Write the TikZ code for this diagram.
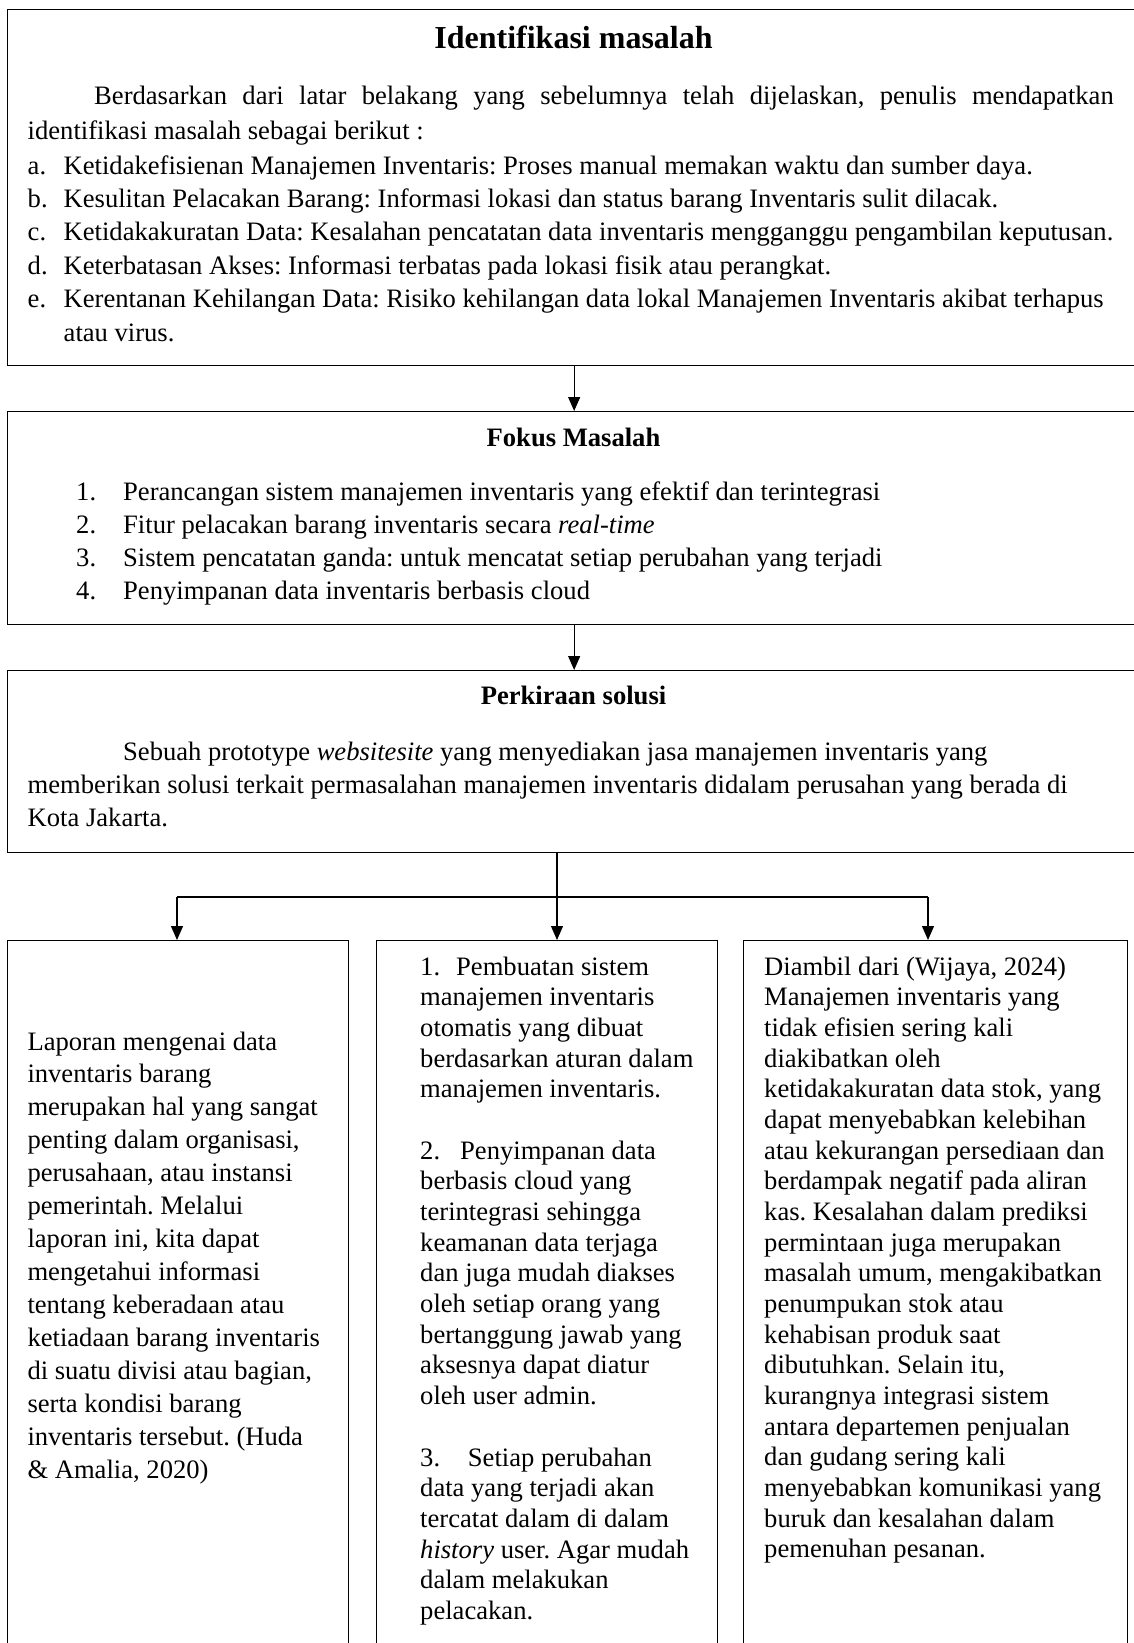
\documentclass[tikz,border=0pt]{standalone}
\usepackage{fontspec}
\setmainfont{Liberation Serif}
\usetikzlibrary{arrows.meta}
\newcommand\myfont[1]{\fontsize{26.6}{#1}\selectfont}
\frenchspacing
\begin{document}
\frenchspacing
\begin{tikzpicture}[x=1pt,y=-1pt,
  box/.style={draw,line width=1.3pt,rectangle,inner sep=0pt,anchor=north west},
  txt/.style={inner sep=0pt,anchor=base west},
  ttl/.style={inner sep=0pt,anchor=base,font=\fontsize{26.6}{30}\selectfont\bfseries},
  arr/.style={line width=1.2pt,-{Triangle[length=14pt,width=12pt]}},
  ln/.style={line width=1.2pt}]
\useasboundingbox (0,0) rectangle (1134,1643);
\clip (0,0) rectangle (1134,1643);
% boxes
\node[box,minimum width=1133pt,minimum height=356pt] (idbox) at (7,9) {};
\node[box,minimum width=1133pt,minimum height=212.6pt] (fokbox) at (7,411) {};
\node[box,minimum width=1133pt,minimum height=182pt] (perbox) at (7,670) {};
\node[box,minimum width=341pt,minimum height=720pt] (b1) at (7,940) {};
\node[box,minimum width=341pt,minimum height=720pt] (b2) at (375.5,940) {};
\node[box,minimum width=384pt,minimum height=720pt] (b3) at (743,940) {};
% titles
\node[ttl,font=\fontsize{32}{36}\selectfont\bfseries] (idttl) at (573.5,49) {Identifikasi masalah};
\node[ttl] (fokttl) at (573.5,446.5) {Fokus Masalah};
\node[ttl] (perttl) at (573.5,704) {Perkiraan solusi};
% top box text
\node[txt] (idpar) at (27.5,105) {\parbox[t]{1200pt}{\myfont{35}\raggedright\frenchspacing
\leavevmode\hbox to 1086pt{\hspace{66.5pt}Berdasarkan dari latar belakang yang sebelumnya telah dijelaskan, penulis mendapatkan}\\
identifikasi masalah sebagai berikut :}};
\node[txt] (idlist) at (27.5,174) {\parbox[t]{1200pt}{\myfont{33.4}\raggedright\frenchspacing
\makebox[36pt][l]{a.}Ketidakefisienan Manajemen Inventaris: Proses manual memakan waktu dan sumber daya.\\
\makebox[36pt][l]{b.}Kesulitan Pelacakan Barang: Informasi lokasi dan status barang Inventaris sulit dilacak.\\
\makebox[36pt][l]{c.}Ketidakakuratan Data: Kesalahan pencatatan data inventaris mengganggu pengambilan keputusan.\\
\makebox[36pt][l]{d.}Keterbatasan Akses: Informasi terbatas pada lokasi fisik atau perangkat.\\
\makebox[36pt][l]{e.}Kerentanan Kehilangan Data: Risiko kehilangan data lokal Manajemen Inventaris akibat terhapus\\
\hspace*{36pt}atau virus.}};
% fokus list
\node[txt] (foklist) at (76,500) {\parbox[t]{1100pt}{\myfont{33.1}\raggedright\frenchspacing
\makebox[47pt][l]{1.}Perancangan sistem manajemen inventaris yang efektif dan terintegrasi\\
\makebox[47pt][l]{2.}Fitur pelacakan barang inventaris secara \textit{real-time}\\
\makebox[47pt][l]{3.}Sistem pencatatan ganda: untuk mencatat setiap perubahan yang terjadi\\
\makebox[47pt][l]{4.}Penyimpanan data inventaris berbasis cloud}};
% perkiraan paragraph
\node[txt] (perpar) at (27.5,760) {\parbox[t]{1200pt}{\myfont{33.3}\raggedright\frenchspacing
\hspace*{95.5pt}Sebuah prototype \textit{websitesite} yang menyediakan jasa manajemen inventaris yang\\
memberikan solusi terkait permasalahan manajemen inventaris didalam perusahan yang berada di\\
Kota Jakarta.}};
% bottom box texts
\node[txt] (b1txt) at (27.3,1050) {\parbox[t]{330pt}{\myfont{32.97}\raggedright\frenchspacing
Laporan mengenai data\\
inventaris barang\\
merupakan hal yang sangat\\
penting dalam organisasi,\\
perusahaan, atau instansi\\
pemerintah. Melalui\\
laporan ini, kita dapat\\
mengetahui informasi\\
tentang keberadaan atau\\
ketiadaan barang inventaris\\
di suatu divisi atau bagian,\\
serta kondisi barang\\
inventaris tersebut. (Huda\\
\& Amalia, 2020)}};
\node[txt] (b2txt) at (420,975) {\parbox[t]{330pt}{\myfont{30.69}\raggedright\frenchspacing
\makebox[36pt][l]{1.}Pembuatan sistem\\
manajemen inventaris\\
otomatis yang dibuat\\
berdasarkan aturan dalam\\
manajemen inventaris.\\[30.69pt]
\makebox[40pt][l]{2.}Penyimpanan data\\
berbasis cloud yang\\
terintegrasi sehingga\\
keamanan data terjaga\\
dan juga mudah diakses\\
oleh setiap orang yang\\
bertanggung jawab yang\\
aksesnya dapat diatur\\
oleh user admin.\\[30.69pt]
\makebox[47.7pt][l]{3.}Setiap perubahan\\
data yang terjadi akan\\
tercatat dalam di dalam\\
\textit{history} user. Agar mudah\\
dalam melakukan\\
pelacakan.}};
\node[txt] (b3txt) at (764,975) {\parbox[t]{360pt}{\myfont{30.67}\raggedright\frenchspacing
Diambil dari (Wijaya, 2024)\\
Manajemen inventaris yang\\
tidak efisien sering kali\\
diakibatkan oleh\\
ketidakakuratan data stok, yang\\
dapat menyebabkan kelebihan\\
atau kekurangan persediaan dan\\
berdampak negatif pada aliran\\
kas. Kesalahan dalam prediksi\\
permintaan juga merupakan\\
masalah umum, mengakibatkan\\
penumpukan stok atau\\
kehabisan produk saat\\
dibutuhkan. Selain itu,\\
kurangnya integrasi sistem\\
antara departemen penjualan\\
dan gudang sering kali\\
menyebabkan komunikasi yang\\
buruk dan kesalahan dalam\\
pemenuhan pesanan.}};
% connectors
\draw[arr] (idbox.south) -- (fokbox.north);
\draw[arr] (fokbox.south) -- (perbox.north);
\coordinate (fork) at (557,897);
\coordinate (forkL) at (177,897);
\coordinate (forkR) at (928,897);
\draw[arr] (perbox.south -| fork) -- (b2.north -| fork);
\draw[ln] (forkL) -- (forkR);
\draw[arr] (forkL) -- (forkL |- b1.north);
\draw[arr] (forkR) -- (forkR |- b3.north);
\end{tikzpicture}
\end{document}
